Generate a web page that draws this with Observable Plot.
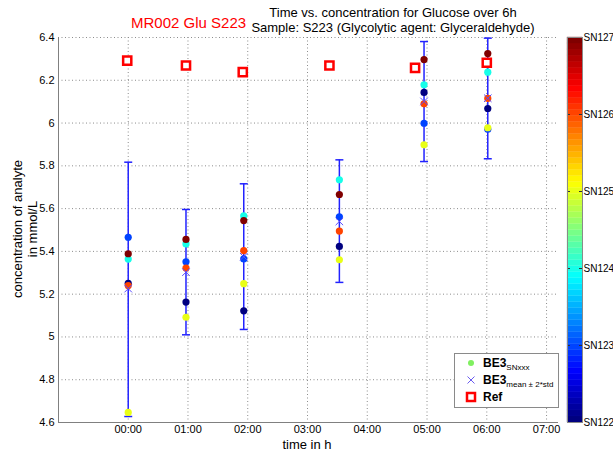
<!DOCTYPE html>
<html>
<head>
<meta charset="utf-8">
<script src="https://cdn.jsdelivr.net/npm/d3@7"></script>
<script src="https://cdn.jsdelivr.net/npm/@observablehq/plot@0.6"></script>
<style>
  html, body { margin: 0; padding: 0; background: #fff; }
  body { width: 613px; height: 452px; position: relative; overflow: hidden;
         font-family: "Liberation Sans", Arial, sans-serif; }
  .abs { position: absolute; white-space: nowrap; }
  #main, #cbar { position: absolute; top: 0; }
  #main { left: 0; }
  #cbar { left: 560px; }
  #legend { position: absolute; left: 454px; top: 353px; width: 103px; height: 53px;
            border: 1px solid #8a8a8a; background: #fff; font-size: 12px; }
  #legend .row { position: absolute; left: 0; height: 17px; width: 100%; }
  #legend .sym { position: absolute; left: 9px; top: 0; }
  #legend .lab { position: absolute; left: 28px; top: 1px; font-weight: bold; }
  #legend sub { font-size: 8px; font-weight: normal; vertical-align: -3px; }
</style>
</head>
<body>
<div id="main"></div>
<div id="cbar"></div>
<div class="abs" style="left:131px;top:14px;font-size:15px;color:#ff0000;">MR002 Glu S223</div>
<div class="abs" style="left:250px;top:5px;width:286px;text-align:center;font-size:13px;line-height:15px;color:#000;">Time vs. concentration for Glucose over 6h<br>Sample: S223 (Glycolytic agent: Glyceraldehyde)</div>
<div class="abs" style="left:25px;top:229px;transform:translate(-50%,-50%) rotate(-90deg);font-size:13px;line-height:15px;text-align:center;color:#000;">concentration of analyte<br>in mmol/L</div>
<div class="abs" style="left:307px;top:444px;transform:translate(-50%,-50%);font-size:13px;color:#000;">time in h</div>
<div id="legend">
  <div class="row" style="top:1px;">
    <svg class="sym" width="14" height="16"><circle cx="7" cy="8" r="3" fill="#80f060"/></svg>
    <div class="lab">BE3<sub>SNxxx</sub></div>
  </div>
  <div class="row" style="top:18px;">
    <svg class="sym" width="14" height="16"><path d="M3.5,4.5L10.5,11.5M3.5,11.5L10.5,4.5" stroke="#6a5cf0" stroke-width="1" fill="none"/></svg>
    <div class="lab">BE3<sub>mean ± 2*std</sub></div>
  </div>
  <div class="row" style="top:35px;">
    <svg class="sym" width="14" height="16"><rect x="3" y="4" width="8" height="8" stroke="#ff0000" stroke-width="2.5" fill="#fff"/></svg>
    <div class="lab">Ref</div>
  </div>
</div>
<script>
// ---- data ----
const sensorIds = [122, 123, 124, 125, 126, 127];
const sampleTimes = [0, 58, 116, 212, 297, 361];          // minutes after start
const sn122 = [5.251, 5.163, 5.122, 5.423, 6.143, 6.068];
const sn123 = [5.466, 5.351, 5.365, 5.562, 5.999, 5.971];
const sn124 = [5.364, 5.435, 5.566, 5.735, 6.179, 6.238];
const sn125 = [4.647, 5.092, 5.249, 5.361, 5.898, 5.978];
const sn126 = [5.240, 5.322, 5.404, 5.495, 6.090, 6.115];
const sn127 = [5.389, 5.456, 5.544, 5.666, 6.297, 6.325];
const meanValues  = [5.226, 5.303, 5.375, 5.540, 6.101, 6.116];
const lowerValues = [4.628, 5.010, 5.035, 5.255, 5.820, 5.833];
const upperValues = [5.817, 5.596, 5.716, 5.828, 6.381, 6.397];
const refTimes  = [-1, 58, 115, 202, 288, 360];
const refValues = [6.292, 6.269, 6.238, 6.269, 6.258, 6.282];
const xTicks = [0, 60, 120, 180, 240, 300, 360, 420];
const yTicks = [4.6, 4.8, 5, 5.2, 5.4, 5.6, 5.8, 6, 6.2, 6.4];
const colorbarTicks = [122, 123, 124, 125, 126, 127];
const xDomain = [-70, 432];
const yDomain = [4.6, 6.4];

// ---- helpers ----
const jet = t => {
  const c = v => Math.max(0, Math.min(1, v));
  return d3.rgb(255 * c(1.5 - Math.abs(4 * t - 3)),
                255 * c(1.5 - Math.abs(4 * t - 2)),
                255 * c(1.5 - Math.abs(4 * t - 1))).formatHex();
};
const jet64 = t => jet(Math.min(63, Math.floor(t * 64)) / 63);
const fmtTime = m => String(Math.floor(m / 60)).padStart(2, "0") + ":" + String(m % 60).padStart(2, "0");
const capSymbol = {
  draw(ctx, size) { const w = Math.sqrt(size / Math.PI); ctx.moveTo(-w, 0); ctx.lineTo(w, 0); }
};

const series = [sn122, sn123, sn124, sn125, sn126, sn127];
const points = [];
series.forEach((arr, i) => arr.forEach((v, j) => points.push({t: sampleTimes[j], v, sn: sensorIds[i]})));
const errTable = sampleTimes.map((t, j) => ({t, lo: lowerValues[j], hi: upperValues[j], mean: meanValues[j]}));
const capTable = errTable.flatMap(d => [{t: d.t, v: d.lo}, {t: d.t, v: d.hi}]);
const refTable = refTimes.map((t, j) => ({t, v: refValues[j]}));

const blue = "#2222ff";
const grid = {stroke: "#8c8c8c", strokeOpacity: 1, strokeDasharray: "1,2.5"};

const main = Plot.plot({
  width: 613, height: 452,
  marginLeft: 58, marginRight: 55, marginTop: 37, marginBottom: 30,
  style: {fontFamily: "Liberation Sans, Arial, sans-serif", fontSize: "11px", color: "#000", background: "transparent", overflow: "visible"},
  x: {domain: xDomain},
  y: {domain: yDomain},
  color: {type: "linear", domain: [122, 127], interpolate: jet64},
  marks: [
    Plot.gridX(xTicks, grid),
    Plot.gridY(yTicks, grid),
    Plot.ruleX([xDomain[0]], {stroke: "#808080"}),
    Plot.ruleY([yDomain[0]], {stroke: "#808080"}),
    Plot.axisX(xTicks, {tickFormat: fmtTime, tickSize: 0, tickPadding: 3, label: null, fontSize: 11}),
    Plot.axisY(yTicks, {tickFormat: d => String(d), tickSize: 0, tickPadding: 4, label: null, fontSize: 11}),
    Plot.ruleX(errTable, {x: "t", y1: "lo", y2: "hi", stroke: blue, strokeWidth: 1.5}),
    Plot.dot(capTable, {x: "t", y: "v", symbol: capSymbol, r: 4, fill: "none", stroke: blue, strokeWidth: 1.5}),
    Plot.dot(points, {x: "t", y: "v", fill: "sn", r: 3.6}),
    Plot.dot(errTable, {x: "t", y: "mean", symbol: "times", r: 3.5, stroke: "#5a4cff", strokeWidth: 1}),
    Plot.dot(refTable, {x: "t", y: "v", symbol: "square", r: 4.6, stroke: "#ff0000", strokeWidth: 2.5, fill: "#fff"})
  ]
});
document.getElementById("main").appendChild(main);

// ---- colorbar ----
const bands = d3.range(64).map(i => ({lo: 122 + i * 5 / 64, hi: 122 + (i + 1) * 5 / 64, c: jet(i / 63)}));
const inner = colorbarTicks.slice(1, -1);
const cbar = Plot.plot({
  width: 53, height: 452,
  marginLeft: 7, marginRight: 31, marginTop: 37, marginBottom: 30,
  style: {fontFamily: "Liberation Sans, Arial, sans-serif", fontSize: "10px", color: "#000", background: "transparent", overflow: "visible"},
  x: {domain: [0, 1], axis: null},
  y: {domain: [122, 127], axis: null},
  marks: [
    Plot.rect(bands, {x1: () => 0, x2: () => 1, y1: "lo", y2: "hi", fill: "c", stroke: "c", strokeWidth: 0.3}),
    Plot.ruleY(inner, {x1: () => 0, x2: () => 0.2, stroke: "#333"}),
    Plot.ruleY(inner, {x1: () => 0.8, x2: () => 1, stroke: "#333"}),
    Plot.frame({stroke: "#8a8a8a"}),
    Plot.text(colorbarTicks, {x: () => 1, y: d => d, text: d => "SN" + d, textAnchor: "start", dx: 1, fontSize: 10})
  ]
});
document.getElementById("cbar").appendChild(cbar);
</script>
</body>
</html>
